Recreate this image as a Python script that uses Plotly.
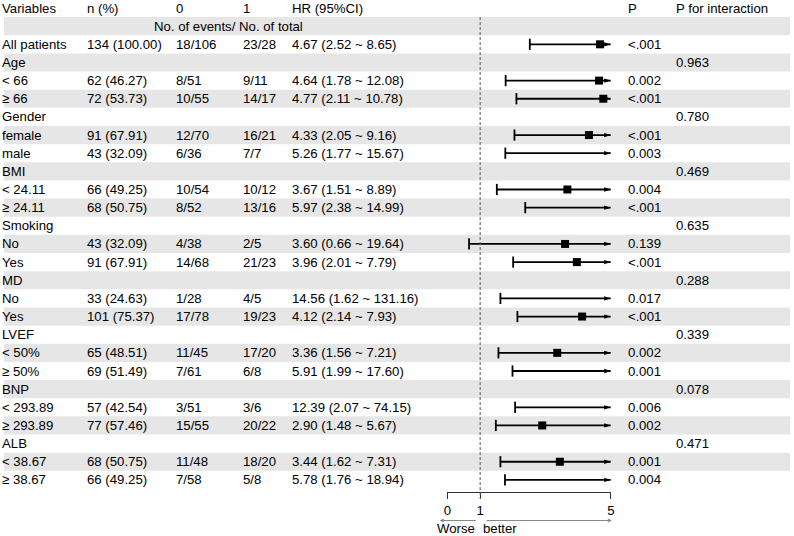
import plotly.graph_objects as go

# ---------------- data ----------------
labels = ["All patients", "Age", "< 66", "≥ 66", "Gender", "female", "male", "BMI",
          "< 24.11", "≥ 24.11", "Smoking", "No", "Yes", "MD", "No", "Yes", "LVEF",
          "< 50%", "≥ 50%", "BNP", "< 293.89", "≥ 293.89", "ALB", "< 38.67", "≥ 38.67"]
n_pct = ["134 (100.00)", "", "62 (46.27)", "72 (53.73)", "", "91 (67.91)", "43 (32.09)", "",
         "66 (49.25)", "68 (50.75)", "", "43 (32.09)", "91 (67.91)", "", "33 (24.63)", "101 (75.37)", "",
         "65 (48.51)", "69 (51.49)", "", "57 (42.54)", "77 (57.46)", "", "68 (50.75)", "66 (49.25)"]
events0 = ["18/106", "", "8/51", "10/55", "", "12/70", "6/36", "", "10/54", "8/52", "", "4/38", "14/68", "",
           "1/28", "17/78", "", "11/45", "7/61", "", "3/51", "15/55", "", "11/48", "7/58"]
events1 = ["23/28", "", "9/11", "14/17", "", "16/21", "7/7", "", "10/12", "13/16", "", "2/5", "21/23", "",
           "4/5", "19/23", "", "17/20", "6/8", "", "3/6", "20/22", "", "18/20", "5/8"]
hr = [4.67, None, 4.64, 4.77, None, 4.33, 5.26, None, 3.67, 5.97, None, 3.60, 3.96, None,
      14.56, 4.12, None, 3.36, 5.91, None, 12.39, 2.90, None, 3.44, 5.78]
ci_low = [2.52, None, 1.78, 2.11, None, 2.05, 1.77, None, 1.51, 2.38, None, 0.66, 2.01, None,
          1.62, 2.14, None, 1.56, 1.99, None, 2.07, 1.48, None, 1.62, 1.76]
ci_high = [8.65, None, 12.08, 10.78, None, 9.16, 15.67, None, 8.89, 14.99, None, 19.64, 7.79, None,
           131.16, 7.93, None, 7.21, 17.60, None, 74.15, 5.67, None, 7.31, 18.94]
p_val = ["<.001", "", "0.002", "<.001", "", "<.001", "0.003", "", "0.004", "<.001", "", "0.139", "<.001", "",
         "0.017", "<.001", "", "0.002", "0.001", "", "0.006", "0.002", "", "0.001", "0.004"]
p_int = ["", "0.963", "", "", "0.780", "", "", "0.469", "", "", "0.635", "", "", "0.288", "", "",
         "0.339", "", "", "0.078", "", "", "0.471", "", ""]
headers = ["Variables", "n (%)", "0", "1", "HR (95%CI)", "P", "P for interaction"]
subheader = "No. of events/ No. of total"
x_ticks = [0, 1, 5]
x_max = 5

# ---------------- layout constants ----------------
W, H = 794, 536
FONT = "Liberation Sans, Arial, sans-serif"
FS = 13.2
ROW0 = 8.0       # pixel centre of header row
ROWH = 18.15     # row height in pixels
TXT_SHIFT = -3   # compensate annotation inner padding
col_px = [0, 86, 176, 243, 293, 632, 681]
forest_px = (448, 613)
BAND = "#e6e6e6"
LW = 1.8

n = len(labels)
rows = [i + 2 for i in range(n)]

fig = go.Figure()

# shaded bands
shapes = []
for r in range(1, n + 2, 2):
    shapes.append(dict(type="rect", xref="paper", x0=0, x1=1, yref="y", y0=r - 0.5, y1=r + 0.5,
                       fillcolor=BAND, line=dict(width=0), layer="below"))

# reference dashed line at HR = 1
shapes.append(dict(type="line", xref="x2", x0=1, x1=1, yref="y", y0=0.5,
                   y1=(499 - ROW0) / ROWH,
                   line=dict(color="#555555", width=1, dash="3px,2px"), layer="above"))

# CI lines
lx, ly = [], []
for r, lo, hi in zip(rows, ci_low, ci_high):
    if lo is None:
        continue
    lx += [lo, min(hi, x_max), None]
    ly += [r, r, None]
fig.add_trace(go.Scatter(x=lx, y=ly, mode="lines", xaxis="x2", yaxis="y",
                         line=dict(color="black", width=LW), hoverinfo="skip", showlegend=False))

# lower caps
cx = [lo for lo in ci_low if lo is not None]
cy = [r for r, lo in zip(rows, ci_low) if lo is not None]
fig.add_trace(go.Scatter(x=cx, y=cy, mode="markers", xaxis="x2", yaxis="y", cliponaxis=False,
                         marker=dict(symbol="line-ns-open", size=8, color="black",
                                     line=dict(color="black", width=LW)),
                         hoverinfo="skip", showlegend=False))

# arrowheads for clipped upper limits
ax_ = [x_max for hi in ci_high if hi is not None and hi > x_max]
ay_ = [r for r, hi in zip(rows, ci_high) if hi is not None and hi > x_max]
fig.add_trace(go.Scatter(x=ax_, y=ay_, mode="markers", xaxis="x2", yaxis="y", cliponaxis=False,
                         marker=dict(symbol="arrow", angle=90, size=7, color="black",
                                     line=dict(width=0)),
                         hoverinfo="skip", showlegend=False))

# point estimates
sx = [h for h in hr if h is not None and h <= x_max]
sy = [r for r, h in zip(rows, hr) if h is not None and h <= x_max]
fig.add_trace(go.Scatter(x=sx, y=sy, mode="markers", xaxis="x2", yaxis="y", cliponaxis=False,
                         marker=dict(symbol="square", size=8, color="black", line=dict(width=0)),
                         hoverinfo="skip", showlegend=False))

# text table
ann = []
def txt(x_px, r, s, anchor="left"):
    if s == "":
        return
    if anchor == "left":
        x_px = x_px + TXT_SHIFT
    ann.append(dict(xref="paper", x=x_px / W, yref="y", y=r, text=s, showarrow=False,
                    xanchor=anchor, yanchor="middle", borderpad=0,
                    font=dict(family=FONT, size=FS, color="black")))

for xp, h in zip(col_px, headers):
    txt(xp, 0, h)
txt(226.5, 1, subheader, "center")

for i, r in enumerate(rows):
    txt(col_px[0], r, labels[i])
    txt(col_px[1], r, n_pct[i])
    txt(col_px[2], r, events0[i])
    txt(col_px[3], r, events1[i])
    if hr[i] is not None:
        txt(col_px[4], r, f"{hr[i]:.2f} ({ci_low[i]:.2f} ~ {ci_high[i]:.2f})")
    txt(col_px[5], r, p_val[i])
    txt(col_px[6], r, p_int[i])

# worse / better arrows
def py(pix):
    return 1 - pix / H
arr_y = py(520.5)
ann.append(dict(xref="x2", x=-0.24, yref="paper", y=arr_y, axref="x2", ax=0.91, ayref="pixel", ay=0,
                text="", showarrow=True, arrowhead=2, arrowsize=0.8, arrowwidth=1, arrowcolor="#888888"))
ann.append(dict(xref="x2", x=5.03, yref="paper", y=arr_y, axref="x2", ax=1.15, ayref="pixel", ay=0,
                text="", showarrow=True, arrowhead=2, arrowsize=0.8, arrowwidth=1, arrowcolor="#888888"))
ann.append(dict(xref="x2", x=0.27, yref="paper", y=py(528.5), text="Worse", showarrow=False,
                xanchor="center", yanchor="middle", borderpad=0,
                font=dict(family=FONT, size=FS, color="black")))
ann.append(dict(xref="x2", x=1.15 + TXT_SHIFT / 33, yref="paper", y=py(528.5), text="better", showarrow=False,
                xanchor="left", yanchor="middle", borderpad=0,
                font=dict(family=FONT, size=FS, color="black")))

fig.update_layout(
    width=W, height=H,
    margin=dict(l=0, r=0, t=0, b=0),
    paper_bgcolor="white", plot_bgcolor="rgba(0,0,0,0)",
    showlegend=False,
    shapes=shapes,
    annotations=ann,
    xaxis=dict(range=[0, 1], visible=False, domain=[0, 1]),
    xaxis2=dict(domain=[forest_px[0] / W, forest_px[1] / W], range=[0, x_max],
                overlaying="x", anchor="free", position=py(492.3),
                showline=True, linecolor="#333333", linewidth=1,
                ticks="outside", ticklen=6, tickcolor="#333333", tickwidth=1,
                tickvals=x_ticks, ticktext=[str(t) for t in x_ticks],
                showgrid=False, zeroline=False,
                tickfont=dict(family=FONT, size=FS, color="black")),
    yaxis=dict(range=[(H - ROW0) / ROWH, -ROW0 / ROWH], visible=False, domain=[0, 1]),
)

fig.write_html("out.html")
